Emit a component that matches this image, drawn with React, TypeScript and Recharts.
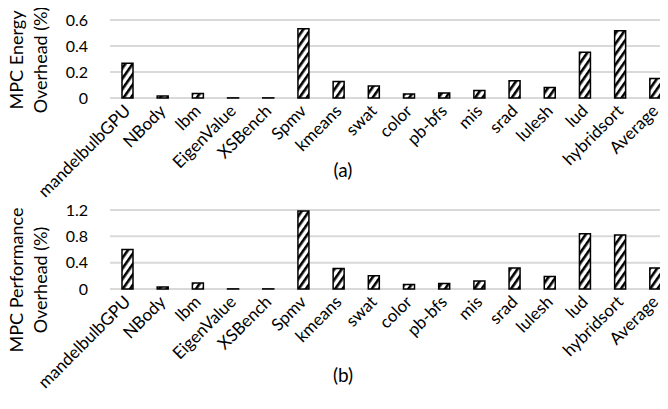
import React from 'react';
import { BarChart, Bar, XAxis, YAxis, CartesianGrid, Label } from 'recharts';

const categories = [
  'mandelbulbGPU', 'NBody', 'lbm', 'EigenValue', 'XSBench', 'Spmv', 'kmeans', 'swat',
  'color', 'pb-bfs', 'mis', 'srad', 'lulesh', 'lud', 'hybridsort', 'Average',
];
const energyOverhead = [0.267, 0.015, 0.034, 0.001, 0.001, 0.533, 0.127, 0.093, 0.031, 0.039, 0.057, 0.132, 0.08, 0.352, 0.517, 0.15];
const perfOverhead = [0.6, 0.03, 0.09, 0.002, 0.002, 1.186, 0.31, 0.2, 0.07, 0.085, 0.12, 0.32, 0.19, 0.84, 0.82, 0.32];
const energyTicks = [0, 0.2, 0.4, 0.6];
const perfTicks = [0, 0.4, 0.8, 1.2];

const FONT = 'Lato, "Open Sans", sans-serif';

const energyData = categories.map((name, i) => ({ name, value: energyOverhead[i] }));
const perfData = categories.map((name, i) => ({ name, value: perfOverhead[i] }));

function CategoryTick(props: any) {
  const { x, y, payload } = props;
  const ax = x + 4;
  const ay = y + 6;
  return (
    <text
      x={ax}
      y={ay}
      transform={`rotate(-45, ${ax}, ${ay})`}
      textAnchor="end"
      fontSize={17}
      fontFamily={FONT}
      fill="#000"
    >
      {payload.value}
    </text>
  );
}

function axisTitle(line1: string, line2: string, cy: number) {
  return () => (
    <text transform={`translate(23, ${cy}) rotate(-90)`} textAnchor="middle" fontSize={18} fontFamily={FONT} fill="#000">
      <tspan x={0} y={0}>{line1}</tspan>
      <tspan x={0} y={24}>{line2}</tspan>
    </text>
  );
}

function Panel({ data, ticks, max, height, plotHeight, title1, title2, titleY }: any) {
  return (
    <BarChart
      width={673}
      height={height}
      data={data}
      margin={{ top: 20, right: 0, bottom: 0, left: 0 }}
      barSize={11}
    >
      <CartesianGrid vertical={false} stroke="#d9d9d9" strokeWidth={2} />
      <XAxis
        dataKey="name"
        interval={0}
        tickLine={false}
        axisLine={false}
        tick={<CategoryTick />}
        height={height - 20 - plotHeight}
      />
      <YAxis
        width={110}
        domain={[0, max]}
        ticks={ticks}
        tickLine={false}
        axisLine={false}
        tickMargin={16}
        tick={{ fontSize: 16, fill: '#000', fontFamily: FONT }}
      >
        <Label content={axisTitle(title1, title2, titleY)} />
      </YAxis>
      <Bar dataKey="value" fill="url(#hatch)" stroke="#000" strokeWidth={1.5} isAnimationActive={false} />
    </BarChart>
  );
}

export default function App() {
  return (
    <div style={{ position: 'relative', margin: -8, width: 668, height: 409, overflow: 'hidden', background: '#fff' }}>
      <svg width={0} height={0} style={{ position: 'absolute' }}>
        <defs>
          <pattern id="hatch" patternUnits="userSpaceOnUse" width={6} height={6} patternTransform="rotate(35)">
            <rect width={6} height={6} fill="#fff" />
            <rect width={2.6} height={6} fill="#000" />
          </pattern>
        </defs>
      </svg>
      <div style={{ position: 'absolute', left: 0, top: 0 }}>
        <Panel data={energyData} ticks={energyTicks} max={0.6} height={205} plotHeight={78} title1="MPC Energy" title2="Overhead (%)" titleY={60} />
      </div>
      <div style={{ position: 'absolute', left: 0, top: 190 }}>
        <Panel data={perfData} ticks={perfTicks} max={1.2} height={219} plotHeight={79} title1="MPC Performance" title2="Overhead (%)" titleY={90} />
      </div>
      <div style={{ position: 'absolute', left: 343, top: 160, transform: 'translateX(-50%)', fontFamily: FONT, fontSize: 19, lineHeight: '19px' }}>(a)</div>
      <div style={{ position: 'absolute', left: 343, top: 365, transform: 'translateX(-50%)', fontFamily: FONT, fontSize: 19, lineHeight: '19px' }}>(b)</div>
    </div>
  );
}
